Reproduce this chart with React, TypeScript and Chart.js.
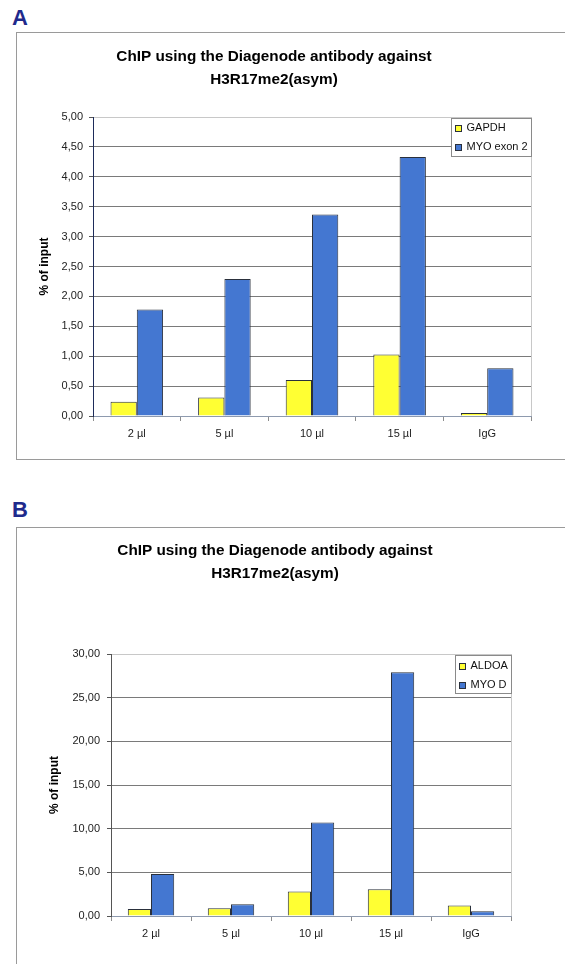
import React, { useEffect, useRef } from "react";
import { Chart, registerables } from "chart.js";

Chart.register(...registerables);

const categories = ["2 µl", "5 µl", "10 µl", "15 µl", "IgG"];

const titleLines = ["ChIP using the Diagenode antibody against", "H3R17me2(asym)"];
const yAxisTitle = "% of input";

// Panel A
const seriesANames = ["GAPDH", "MYO exon 2"];
const gapdhValues = [0.24, 0.31, 0.6, 1.03, 0.05];
const myoExon2Values = [1.78, 2.29, 3.37, 4.33, 0.8];
const yTicksA = { min: 0, max: 5, step: 0.5 };

// Panel B
const seriesBNames = ["ALDOA", "MYO D"];
const aldoaValues = [0.8, 0.9, 2.8, 3.05, 1.2];
const myoDValues = [4.8, 1.35, 10.7, 27.9, 0.55];
const yTicksB = { min: 0, max: 30, step: 5 };

const YELLOW = "#FFFF33";
const BLUE = "#4477D1";
const BAR_BORDER = "#2A303C";
const FONT = "'Liberation Sans', Arial, sans-serif";

Chart.defaults.font.family = FONT;

type PanelCfg = {
  names: string[];
  s1: number[];
  s2: number[];
  yr: { min: number; max: number; step: number };
  yWidth: number;
  xHeight: number;
  padLeft: number;
  padRight: number;
  titleTop: number;
  titleBottom: number;
  yTitleOffset: number;
  tickPad: number;
  catPct: number;
  legendItemY: [number, number];
  yAxisColor: string;
};

const legendPlugin = (itemY: [number, number]) => ({
  id: "innerLegend",
  afterDraw(chart: any) {
    const { ctx, chartArea } = chart;
    ctx.save();
    // right plot border
    ctx.strokeStyle = "#C8C8C8";
    ctx.lineWidth = 1;
    ctx.beginPath();
    ctx.moveTo(chartArea.right + 0.5, chartArea.top);
    ctx.lineTo(chartArea.right + 0.5, chartArea.bottom);
    ctx.stroke();

    ctx.font = `11px ${FONT}`;
    const ds = chart.data.datasets;
    let maxW = 0;
    ds.forEach((d: any) => {
      maxW = Math.max(maxW, ctx.measureText(d.label).width);
    });
    const w = Math.round(15 + maxW + 4);
    const h = 38;
    const x = Math.round(chartArea.right - w) + 0.5;
    const y = Math.round(chartArea.top + 1) + 0.5;
    ctx.fillStyle = "#FFFFFF";
    ctx.fillRect(x, y, w, h);
    ctx.strokeStyle = "#8A8A8A";
    ctx.strokeRect(x, y, w, h);
    ds.forEach((d: any, i: number) => {
      const cy = y + itemY[i];
      ctx.fillStyle = d.backgroundColor;
      ctx.fillRect(x + 4, Math.round(cy - 3) + 0.5, 6, 6);
      ctx.strokeStyle = BAR_BORDER;
      ctx.strokeRect(x + 4, Math.round(cy - 3) + 0.5, 6, 6);
      ctx.fillStyle = "#111";
      ctx.textBaseline = "middle";
      ctx.textAlign = "left";
      ctx.fillText(d.label, x + 15, cy);
    });
    ctx.restore();
  },
});

function makeConfig(c: PanelCfg): any {
  return {
    type: "bar",
    data: {
      labels: categories,
      datasets: [
        {
          label: c.names[0],
          data: c.s1,
          backgroundColor: YELLOW,
          borderColor: BAR_BORDER,
          borderWidth: 1,
          categoryPercentage: c.catPct,
          barPercentage: 1,
        },
        {
          label: c.names[1],
          data: c.s2,
          backgroundColor: BLUE,
          borderColor: BAR_BORDER,
          borderWidth: 1,
          categoryPercentage: c.catPct,
          barPercentage: 1,
        },
      ],
    },
    options: {
      animation: false,
      responsive: false,
      maintainAspectRatio: false,
      layout: { padding: { left: c.padLeft, top: 0, right: c.padRight, bottom: 0 } },
      plugins: {
        legend: { display: false },
        tooltip: { enabled: false },
        title: {
          display: true,
          text: titleLines,
          color: "#000",
          font: { size: 15.3, weight: "bold", lineHeight: 23 / 15.3 },
          padding: { top: c.titleTop, bottom: c.titleBottom },
        },
      },
      scales: {
        x: {
          afterFit: (s: any) => {
            s.height = c.xHeight;
          },
          grid: {
            offset: true,
            drawOnChartArea: false,
            drawTicks: true,
            tickLength: 5,
            tickColor: "#8C8C8C",
          },
          border: { display: true, color: "#8E9AAE", width: 1 },
          ticks: { color: "#222", font: { size: 11 }, padding: 6 },
        },
        y: {
          min: c.yr.min,
          max: c.yr.max,
          afterFit: (s: any) => {
            s.width = c.yWidth;
          },
          afterBuildTicks: (s: any) => {
            const t: any[] = [];
            for (let v = c.yr.min; v <= c.yr.max + 1e-9; v += c.yr.step) {
              t.push({ value: Math.round(v * 100) / 100 });
            }
            s.ticks = t;
          },
          grid: {
            color: (ctx: any) =>
              ctx.tick && ctx.tick.value === c.yr.max ? "#C8C8C8" : "#7A7A7A",
            tickLength: 4,
            tickColor: "#555",
          },
          border: { display: true, color: c.yAxisColor, width: 1 },
          ticks: {
            color: "#222",
            font: { size: 11 },
            padding: c.tickPad,
            callback: (v: any) => Number(v).toFixed(2).replace(".", ","),
          },
          title: {
            display: true,
            text: yAxisTitle,
            color: "#000",
            font: { size: 12, weight: "bold", lineHeight: 1.2 },
            padding: { top: c.yTitleOffset - 7.2, bottom: 0 },
          },
        },
      },
    },
    plugins: [legendPlugin(c.legendItemY)],
  };
}

const cfgA: PanelCfg = {
  names: seriesANames,
  s1: gapdhValues,
  s2: myoExon2Values,
  yr: yTicksA,
  yWidth: 76,
  xHeight: 43,
  padLeft: 0,
  padRight: 34,
  titleTop: 11.5,
  titleBottom: 25.5,
  yTitleOffset: 28,
  tickPad: 6,
  catPct: 0.6,
  legendItemY: [9, 28.5],
  yAxisColor: "#1E2C5A",
};

const cfgB: PanelCfg = {
  names: seriesBNames,
  s1: aldoaValues,
  s2: myoDValues,
  yr: yTicksB,
  yWidth: 72,
  xHeight: 47,
  padLeft: 22,
  padRight: 54,
  titleTop: 10.5,
  titleBottom: 68.5,
  yTitleOffset: 16,
  tickPad: 7,
  catPct: 0.58,
  legendItemY: [10, 29],
  yAxisColor: "#555",
};

function Panel(props: {
  cfg: PanelCfg;
  top: number;
  height: number;
  letter: string;
  letterTop: number;
  bottomBorder: boolean;
}) {
  const ref = useRef<HTMLCanvasElement | null>(null);
  useEffect(() => {
    if (!ref.current) return;
    const chart = new Chart(ref.current, makeConfig(props.cfg));
    return () => chart.destroy();
  }, []);
  return (
    <>
      <div
        style={{
          position: "absolute",
          left: 12,
          top: props.letterTop,
          fontFamily: FONT,
          fontWeight: "bold",
          fontSize: 22,
          lineHeight: "22px",
          color: "#1F2A8C",
        }}
      >
        {props.letter}
      </div>
      <div
        style={{
          position: "absolute",
          left: 16,
          top: props.top - 1,
          width: 560,
          height: props.height + 1,
          borderLeft: "1.5px solid #9A9A9A",
          borderTop: "1.5px solid #9A9A9A",
          borderBottom: props.bottomBorder ? "1.5px solid #9A9A9A" : "none",
          boxSizing: "border-box",
        }}
      />
      <canvas
        ref={ref}
        width={548}
        height={props.height - 2}
        style={{
          position: "absolute",
          left: 17,
          top: props.top + 1,
          width: 548,
          height: props.height - 2,
        }}
      />
    </>
  );
}

export default function App() {
  return (
    <div
      style={{
        position: "absolute",
        left: 0,
        top: 0,
        width: 565,
        height: 964,
        background: "#fff",
        overflow: "hidden",
      }}
    >
      <Panel cfg={cfgA} top={33} height={427} letter="A" letterTop={7} bottomBorder={true} />
      <Panel cfg={cfgB} top={528} height={436} letter="B" letterTop={499} bottomBorder={false} />
    </div>
  );
}
